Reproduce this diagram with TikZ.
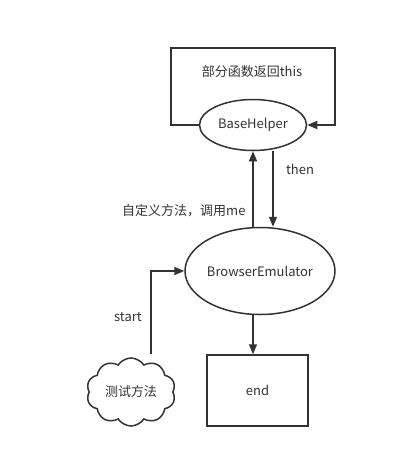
\documentclass[tikz,border=0pt]{standalone}
\usepackage{fontspec}
\setmainfont{Noto Sans CJK SC}
\usetikzlibrary{arrows.meta,shapes.geometric,shapes.symbols}
\definecolor{ink}{HTML}{333333}
\tikzset{
	arr/.style={line width=1.5pt, color=ink, -{Triangle[length=10pt,width=8pt]}},
	oval/.style={ellipse, draw=ink, line width=1.5pt, inner sep=0pt},
	lbl/.style={text=ink, font=\fontsize{13}{15}\selectfont}
}

\begin{document}
\begin{tikzpicture}[x=1pt, y=-1pt]
			%%%%% START %%%%%
			\useasboundingbox (0, 0) rectangle (412, 459);
			
			\node[oval, lbl, minimum width=107, minimum height=51] (bh) at (253, 125) {BaseHelper};
			\node[oval, lbl, minimum width=148, minimum height=87] (be) at (260, 271) {BrowserEmulator};
			\node[draw=ink, line width=1.5pt, lbl, minimum width=101, minimum height=71] (fin) at (257.5, 390.5) {end};
			\node[cloud, cloud puffs=10, cloud puff arc=115, aspect=1.3, draw=ink, line width=1.5pt, lbl, minimum width=89, minimum height=68, inner sep=0pt] (test) at (131, 392) {测试方法};
			
			\node[lbl] (loop) at (252, 72) {部分函数返回this};
			\node[lbl] (then) at (300, 169) {then};
			\node[lbl, anchor=east] (call) at (249, 211) {自定义方法，调用me};
			\node[lbl] (start) at (128, 317) {start};
			
			\coordinate (tl) at (171, 48);
			\coordinate (tr) at (335, 48);
			\draw[arr] (bh.west) -| (tl) -- (tr) |- (bh.east);
			
			\draw[arr] (bh.south |- be.north) -- (bh.south);
			\draw[arr] ([xshift=20]bh.south) -- ([xshift=13]be.north);
			\draw[arr] ([xshift=-7]be.south) -- ([xshift=-4.5]fin.north);
			\draw[arr] ([xshift=20, yshift=3]test.north) |- (be.west);
			
			%%%%% END %%%%%
\end{tikzpicture}
\end{document}
